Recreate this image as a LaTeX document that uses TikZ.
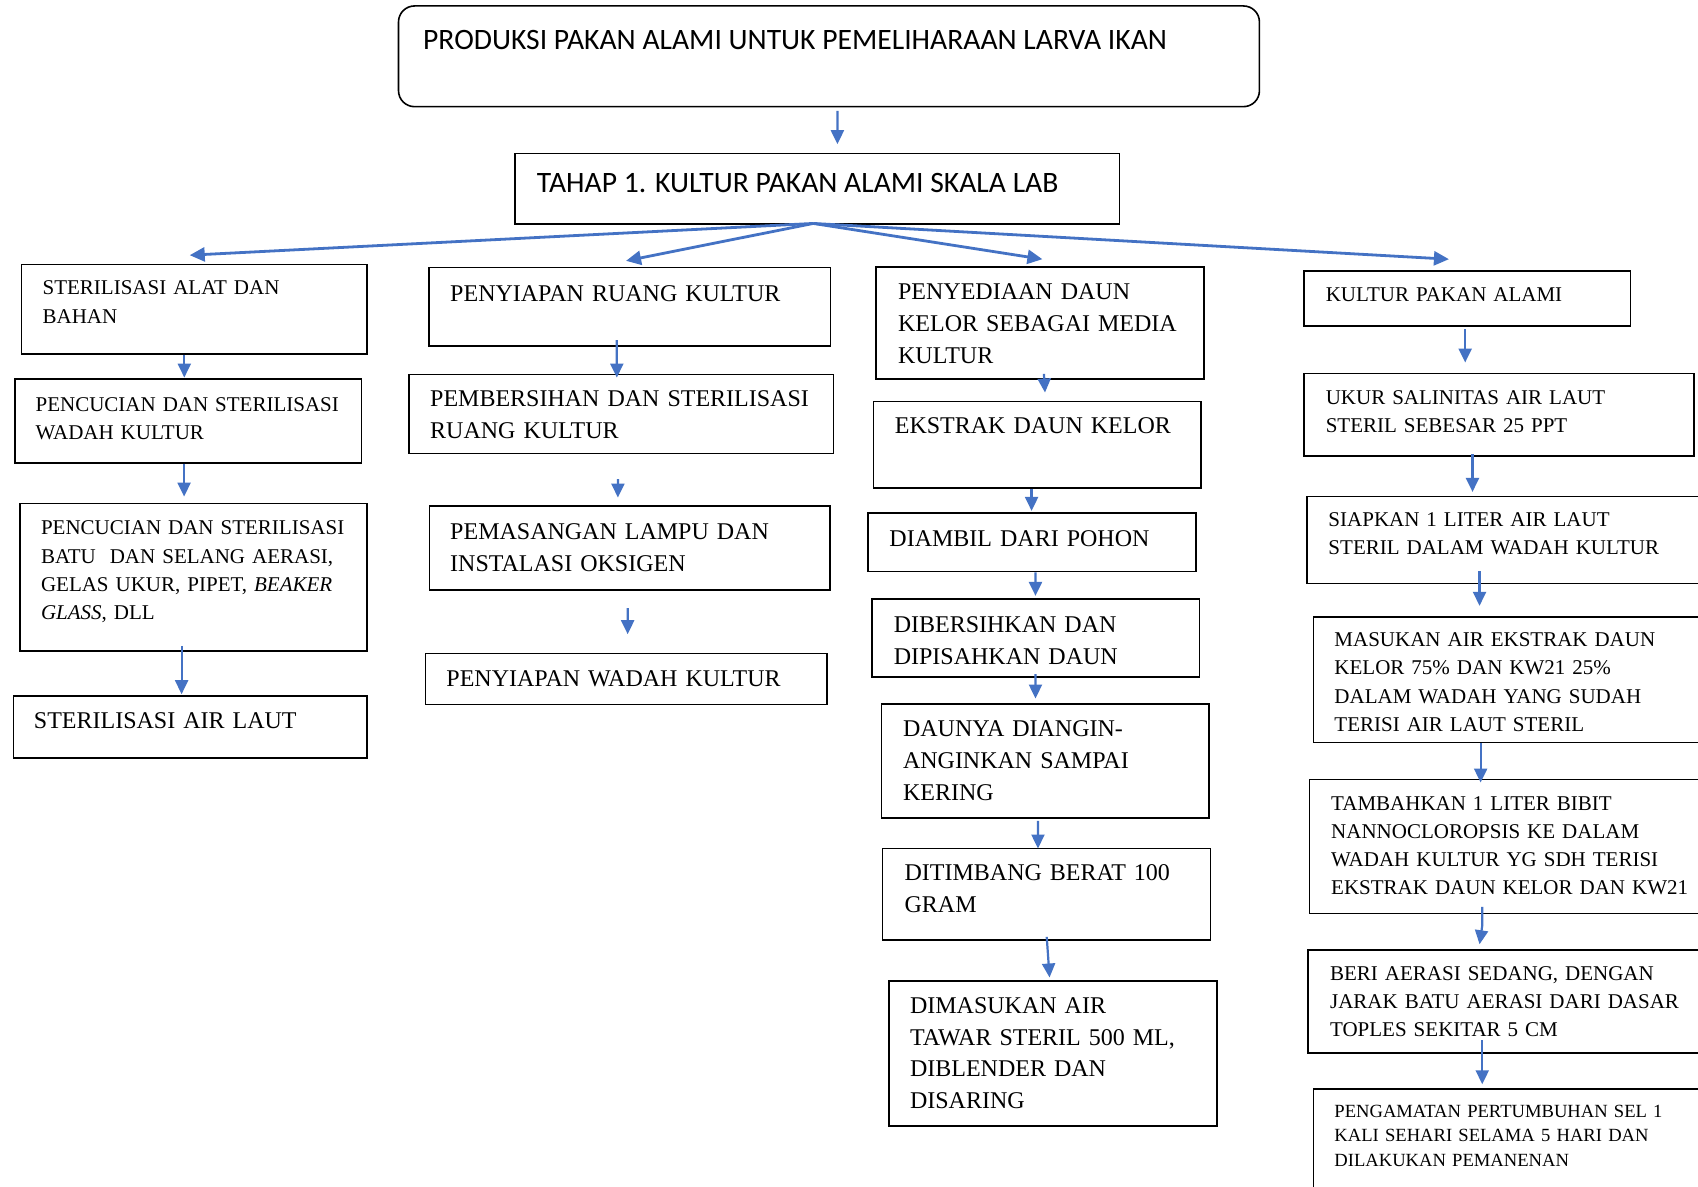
\documentclass[tikz,border=0pt]{standalone}
\usepackage{fontspec}
\setmainfont{Liberation Serif}
\newfontfamily\calfont{Carlito}
\usetikzlibrary{arrows.meta,fit}
\definecolor{arrowblue}{HTML}{4472C4}
\tikzset{
  box/.style={draw=black, line width=0.8pt, inner sep=0pt, rectangle},
  tbase/.style={anchor=base west, inner sep=0pt, text width=240pt, align=left},
  tM/.style={tbase, font=\fontsize{12}{15.86}\selectfont},
  tS/.style={tbase, font=\fontsize{10.5}{14.13}\selectfont},
  tX/.style={tbase, font=\fontsize{9.3}{12.18}\selectfont},
  tC/.style={anchor=base west, inner sep=0pt, font=\calfont\fontsize{14.8}{17}\selectfont},
  arr/.style={draw=arrowblue, line width=1.1pt, -{Triangle[length=7pt,width=6.5pt]}},
  brarr/.style={arr, line width=1.4pt, -{Triangle[length=7.5pt,width=7pt]}},
}
\begin{document}
\begin{tikzpicture}[x=0.54145pt, y=0.54145pt]
\useasboundingbox (0,0) rectangle (1568,-1096);
\begin{scope}
\clip (0,0) rectangle (1568,-1096);
\fill[white] (0,0) rectangle (1568,-1096);

% ---- boxes ----
\node[box, rounded corners=8pt, fit={(368,-5.5) (1163,-98.5)}] (title) {};
\node[box, fit={(475.5,-141.6) (1033.7,-206.9)}] (tahap) {};

\node[box, fit={(20,-244.1) (338.8,-326.9)}] (a1) {};
\node[box, fit={(14,-350) (334,-427.3)}] (a2) {};
\node[box, fit={(18.5,-464.8) (339,-601.2)}] (a3) {};
\node[box, fit={(12.5,-642.7) (339,-699.7)}] (a4) {};

\node[box, fit={(396.4,-247.2) (766.8,-319.5)}] (b1) {};
\node[box, fit={(377.8,-346) (769.8,-418.6)}] (b2) {};
\node[box, fit={(396.5,-467.3) (766.7,-544.9)}] (b3) {};
\node[box, fit={(392.9,-603.3) (763.4,-650.4)}] (b4) {};

\node[box, fit={(808.9,-246.3) (1111.7,-350)}] (c1) {};
\node[box, fit={(806.5,-370.9) (1109.3,-450.9)}] (c2) {};
\node[box, fit={(801.5,-474) (1104.2,-527.9)}] (c3) {};
\node[box, fit={(805,-553.4) (1107.8,-624.9)}] (c4) {};
\node[box, fit={(813.9,-650.1) (1116.7,-755.1)}] (c5) {};
\node[box, fit={(815,-783.4) (1117.7,-868)}] (c6) {};
\node[box, fit={(821,-905.9) (1123.7,-1039.8)}] (c7) {};

\node[box, fit={(1203.9,-250.3) (1505.7,-300.8)}] (d1) {};
\node[box, fit={(1203.9,-344.8) (1564.2,-421.1)}] (d2) {};
\node[box, fit={(1206.9,-458.6) (1600,-538.7)}] (d3) {};
\node[box, fit={(1212.9,-569.5) (1600,-685.8)}] (d4) {};
\node[box, fit={(1209.3,-719.7) (1600,-843.4)}] (d5) {};
\node[box, fit={(1207.9,-877.3) (1600,-972.1)}] (d6) {};
\node[box, fit={(1212.9,-1005.6) (1600,-1130)}] (d7) {};

% ---- texts ----
\node[tC] (titlet) at (390.4,-45.6) {PRODUKSI PAKAN ALAMI UNTUK PEMELIHARAAN LARVA IKAN};
\node[tC] (tahapt) at (495.5,-178) {TAHAP 1. KULTUR PAKAN ALAMI SKALA LAB};

\node[tS] (a1t) at (39,-272.4) {STERILISASI ALAT DAN\\BAHAN};
\node[tS] (a2t) at (32.5,-380.2) {PENCUCIAN DAN STERILISASI\\WADAH KULTUR};
\node[tS] (a3t) at (37.5,-494) {PENCUCIAN DAN STERILISASI\\BATU\ \ DAN SELANG AERASI,\\GELAS UKUR, PIPET, \textit{BEAKER}\\\textit{GLASS}, DLL};
\node[tM] (a4t) at (31,-672.6) {STERILISASI AIR LAUT};

\node[tM] (b1t) at (415.4,-278.6) {PENYIAPAN RUANG KULTUR};
\node[tM] (b2t) at (396.9,-375.5) {PEMBERSIHAN DAN STERILISASI\\RUANG KULTUR};
\node[tM] (b3t) at (415.4,-498) {PEMASANGAN LAMPU DAN\\INSTALASI OKSIGEN};
\node[tM] (b4t) at (411.9,-633.5) {PENYIAPAN WADAH KULTUR};

\node[tM] (c1t) at (829,-277) {PENYEDIAAN DAUN\\KELOR SEBAGAI MEDIA\\KULTUR};
\node[tM] (c2t) at (826,-400.2) {EKSTRAK DAUN KELOR};
\node[tM] (c3t) at (821,-504.8) {DIAMBIL DARI POHON};
\node[tM] (c4t) at (825,-583.9) {DIBERSIHKAN DAN\\DIPISAHKAN DAUN};
\node[tM] (c5t) at (833.5,-680.3) {DAUNYA DIANGIN-\\ANGINKAN SAMPAI\\KERING};
\node[tM] (c6t) at (835,-813.2) {DITIMBANG BERAT 100\\GRAM};
\node[tM] (c7t) at (840,-935.8) {DIMASUKAN AIR\\TAWAR STERIL 500 ML,\\DIBLENDER DAN\\DISARING};

\node[tS] (d1t) at (1223.9,-278.6) {KULTUR PAKAN ALAMI};
\node[tS] (d2t) at (1223.9,-373.1) {UKUR SALINITAS AIR LAUT\\STERIL SEBESAR 25 PPT};
\node[tS] (d3t) at (1226.4,-486.3) {SIAPKAN 1 LITER AIR LAUT\\STERIL DALAM WADAH KULTUR};
\node[tS] (d4t) at (1231.9,-597.2) {MASUKAN AIR EKSTRAK DAUN\\KELOR 75\% DAN KW21 25\%\\DALAM WADAH YANG SUDAH\\TERISI AIR LAUT STERIL};
\node[tS] (d5t) at (1228.9,-748) {TAMBAHKAN 1 LITER BIBIT\\NANNOCLOROPSIS KE DALAM\\WADAH KULTUR YG SDH TERISI\\EKSTRAK DAUN KELOR DAN KW21};
\node[tS] (d6t) at (1227.9,-905) {BERI AERASI SEDANG, DENGAN\\JARAK BATU AERASI DARI DASAR\\TOPLES SEKITAR 5 CM};
\node[tX] (d7t) at (1231.9,-1031.8) {PENGAMATAN PERTUMBUHAN SEL 1\\KALI SEHARI SELAMA 5 HARI DAN\\DILAKUKAN PEMANENAN};

% ---- connectors ----
\draw[arr] ([shift={(7.8,-3.1)}]title.south) -- ([shift={(18.7,7.7)}]tahap.north);

\coordinate (hub) at ([shift={(-3.6,1.3)}]tahap.south);
\draw[brarr] (hub) -- ([shift={(-4.2,7.7)}]a1.north);
\draw[brarr] (hub) -- ([shift={(-3.5,5.6)}]b1.north);
\draw[brarr] (hub) -- ([shift={(2.3,6.2)}]c1.north);
\draw[brarr] (hub) -- ([shift={(-16.8,10.2)}]d1.north);

\draw[arr] ([shift={(-9.2,0)}]a1.south) -- ([shift={(-3.8,0.6)}]a2.north);
\draw[arr] ([shift={(-4,0)}]a2.south) -- ([shift={(-8.75,5.5)}]a3.north);
\draw[arr] ([shift={(-11.05,5.6)}]a3.south) -- ([shift={(-8.05,0.9)}]a4.north);

\draw[arr] ([shift={(-12,6.2)}]b1.south) -- ([shift={(-4.2,-3.4)}]b2.north);
\draw[arr] ([shift={(-3.2,-23.1)}]b2.south) -- ([shift={(-11,7.1)}]b3.north);
\draw[arr] ([shift={(-2,-15.9)}]b3.south) -- ([shift={(1.45,16.9)}]b4.north);

\draw[arr] ([shift={(3.7,5.5)}]c1.south) -- ([shift={(7.1,7.7)}]c2.north);
\draw[arr] ([shift={(-5.3,0)}]c2.south) -- ([shift={(-0.25,1.5)}]c3.north);
\draw[arr] ([shift={(3.35,0)}]c3.south) -- ([shift={(-0.2,2.4)}]c4.north);
\draw[arr] ([shift={(-0.2,3.1)}]c4.south) -- ([shift={(-9.1,4.3)}]c5.north);
\draw[arr] ([shift={(-6.8,-2.1)}]c5.south) -- ([shift={(-7.85,-0.9)}]c6.north);
\draw[arr] ([shift={(0.25,3.6)}]c6.south) -- ([shift={(-3.15,2.5)}]c7.north);

\draw[arr] ([shift={(-1.8,-2.4)}]d1.south) -- ([shift={(-31.05,9.3)}]d2.north);
\draw[arr] ([shift={(156.6,2.5)}]d2.south west) -- ([shift={(153.6,3.6)}]d3.north west);
\draw[arr] ([shift={(160.1,11.7)}]d3.south west) -- ([shift={(154.1,9.3)}]d4.north west);
\draw[arr] ([shift={(155.1,0)}]d4.south west) -- ([shift={(158.7,-3.7)}]d5.north west);
\draw[arr] ([shift={(160.2,6.8)}]d5.south west) -- ([shift={(160.2,-10.6)}]d5.south west) -- ([shift={(159.1,4.6)}]d6.north west);
\draw[arr] ([shift={(161.6,12.3)}]d6.south west) -- ([shift={(156.6,3.6)}]d7.north west);
\end{scope}
\end{tikzpicture}
\end{document}
